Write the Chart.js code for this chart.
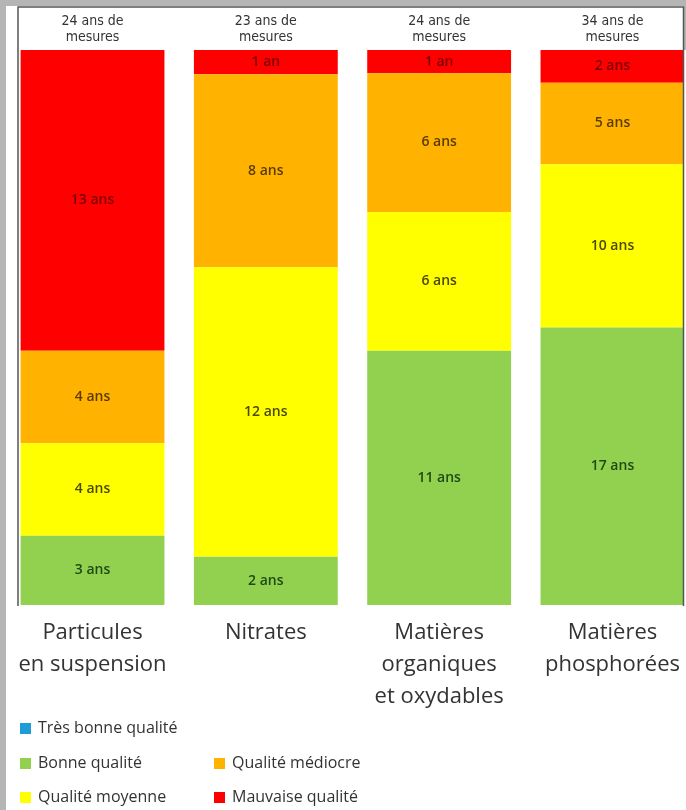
<!DOCTYPE html>
<html>
<head>
<meta charset="utf-8">
<script src="https://cdn.jsdelivr.net/npm/chart.js@4.4.1/dist/chart.umd.min.js"></script>
<style>
  html, body { margin: 0; padding: 0; background: #fff; overflow: hidden; }
  #wrap { width: 686px; height: 810px; }
</style>
</head>
<body>
<div id="wrap"><canvas id="myChart" width="686" height="810"></canvas></div>
<script>
// categories (bottom labels) and years of measurement (top labels)
var categories = [['Particules', 'en suspension'], ['Nitrates'], ['Matières', 'organiques', 'et oxydables'], ['Matières', 'phosphorées']];
var measureLabels = [['24 ans de', 'mesures'], ['23 ans de', 'mesures'], ['24 ans de', 'mesures'], ['34 ans de', 'mesures']];

// number of years in each quality class
var tresBonne = [0, 0, 0, 0];
var bonne = [3, 2, 11, 17];
var moyenne = [4, 12, 6, 10];
var mediocre = [4, 8, 6, 5];
var mauvaise = [13, 1, 1, 2];

var seriesNames = ['Très bonne qualité', 'Bonne qualité', 'Qualité moyenne', 'Qualité médiocre', 'Mauvaise qualité'];
var seriesYears = [tresBonne, bonne, moyenne, mediocre, mauvaise];
var colors = ['#1e9cd7', '#92d050', '#ffff00', '#ffb300', '#ff0000'];
var textColors = ['#0b3d5a', '#1f4a14', '#4a4a00', '#5a3c00', '#7a0000'];

var totals = categories.map(function(c, j) {
    var s = 0;
    for (var i = 0; i < seriesYears.length; i++) s += seriesYears[i][j];
    return s;
});

var datasets = seriesYears.map(function(arr, i) {
    return {
        label: seriesNames[i],
        years: arr,
        data: arr.map(function(v, j) { return { x: j, y: v / totals[j] * 100 }; }),
        backgroundColor: colors[i],
        borderWidth: 0,
        barPercentage: 0.83,
        categoryPercentage: 1,
        xAxisID: 'x'
    };
});

function fixedTicks(axis) {
    axis.ticks = categories.map(function(c, i) { return { value: i }; });
}

var framePlugin = {
    id: 'frame',
    beforeDraw: function(chart) {
        var ctx = chart.ctx;
        ctx.save();
        ctx.fillStyle = '#ffffff';
        ctx.fillRect(0, 0, chart.width, chart.height);
        ctx.fillStyle = '#b5b5b5';
        ctx.fillRect(0, 0, 6, chart.height);
        ctx.fillRect(0, 0, chart.width, 6);
        ctx.fillRect(684, 0, 2, 50);
        ctx.restore();
    },
    afterDatasetsDraw: function(chart) {
        var ctx = chart.ctx;
        var a = chart.chartArea;
        ctx.save();
        ctx.strokeStyle = '#555555';
        ctx.lineWidth = 1.5;
        ctx.beginPath();
        ctx.moveTo(18, a.bottom + 1);
        ctx.lineTo(18, 7);
        ctx.lineTo(683.5, 7);
        ctx.lineTo(683.5, a.bottom + 1);
        ctx.stroke();

        // value labels in each segment
        ctx.font = '600 14px "Open Sans", sans-serif';
        ctx.textAlign = 'center';
        ctx.textBaseline = 'middle';
        chart.data.datasets.forEach(function(ds, i) {
            var meta = chart.getDatasetMeta(i);
            meta.data.forEach(function(bar, j) {
                var v = ds.years[j];
                if (!v) return;
                ctx.fillStyle = textColors[i];
                ctx.fillText(v + (v > 1 ? ' ans' : ' an'), bar.x, (bar.y + bar.base) / 2);
            });
        });

        // legend
        var slots = [[20, 728], [20, 763], [20, 797], [214, 763], [214, 797]];
        ctx.font = '16px "Open Sans", sans-serif';
        ctx.textAlign = 'left';
        chart.data.datasets.forEach(function(ds, i) {
            var p = slots[i];
            ctx.fillStyle = ds.backgroundColor;
            ctx.fillRect(p[0], p[1] - 5, 11, 11);
            ctx.fillStyle = '#333333';
            ctx.fillText(ds.label, p[0] + 18, p[1]);
        });
        ctx.restore();
    }
};

var ctx = document.getElementById('myChart');
var myChart = new Chart(ctx, {
    type: 'bar',
    data: { datasets: datasets },
    plugins: [framePlugin],
    options: {
        responsive: false,
        animation: false,
        layout: { padding: { left: 18, right: 3, top: 0, bottom: 0 } },
        plugins: { legend: { display: false }, tooltip: { enabled: false } },
        scales: {
            x: {
                type: 'linear',
                position: 'bottom',
                min: -0.43,
                max: 3.407,
                offset: false,
                stacked: true,
                afterBuildTicks: fixedTicks,
                afterFit: function(scale) { scale.height = 205; scale.paddingLeft = 0; scale.paddingRight = 0; },
                grid: { display: false, drawTicks: false },
                border: { display: false },
                ticks: {
                    maxRotation: 0,
                    autoSkip: false,
                    padding: 12,
                    color: '#333333',
                    font: { family: '"Open Sans", sans-serif', size: 22, lineHeight: '32px' },
                    callback: function(value) { return categories[value]; }
                }
            },
            xTop: {
                type: 'linear',
                position: 'top',
                min: -0.43,
                max: 3.407,
                offset: false,
                afterBuildTicks: fixedTicks,
                afterFit: function(scale) { scale.height = 50; scale.paddingLeft = 0; scale.paddingRight = 0; },
                grid: { display: false, drawTicks: false },
                border: { display: false },
                ticks: {
                    maxRotation: 0,
                    autoSkip: false,
                    padding: 5,
                    color: '#333333',
                    font: { family: '"Liberation Sans Narrow", "DejaVu Sans Condensed", sans-serif', size: 14, lineHeight: '16px' },
                    callback: function(value) { return measureLabels[value]; }
                }
            },
            y: {
                stacked: true,
                min: 0,
                max: 100,
                display: false
            }
        }
    }
});
</script>
</body>
</html>
